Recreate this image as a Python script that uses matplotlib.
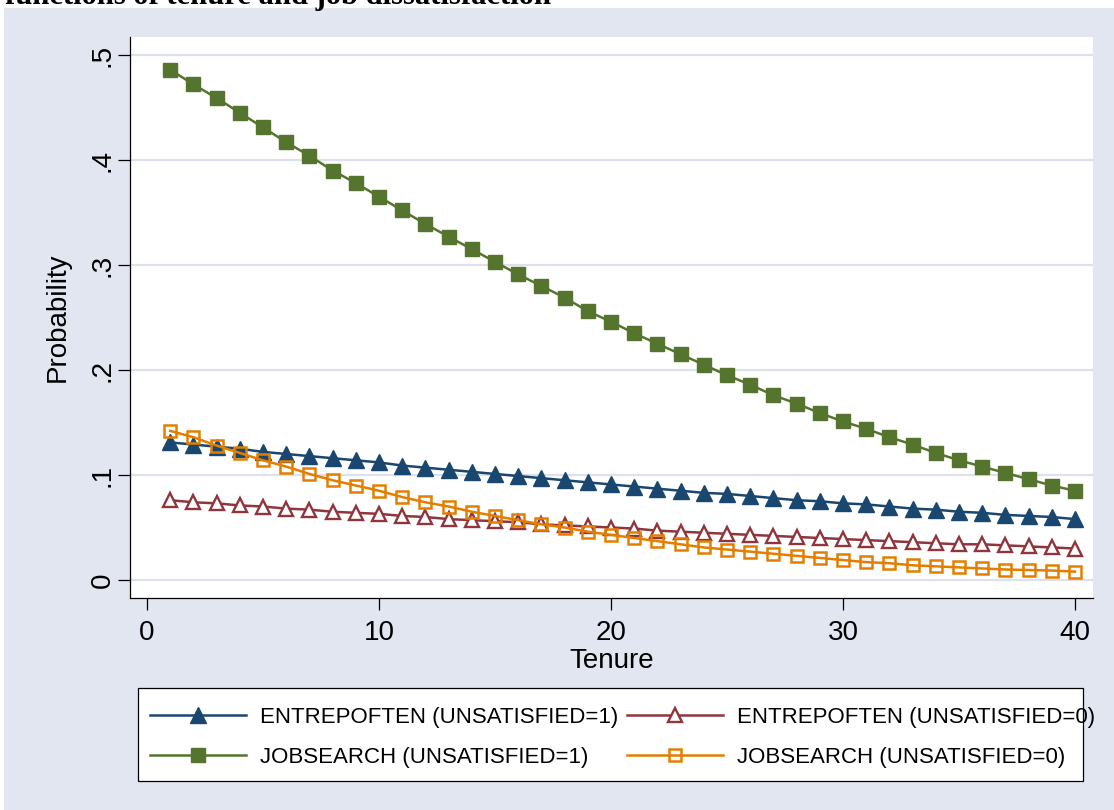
import matplotlib
matplotlib.use("Agg")
import matplotlib.pyplot as plt
from matplotlib.patches import Rectangle

plt.rcParams['font.family'] = ['Liberation Sans', 'DejaVu Sans']

# Predicted probabilities by tenure (years)
tenure = list(range(1, 41))

entrep_unsat1 = [0.131, 0.129, 0.127, 0.125, 0.122, 0.120, 0.118, 0.116, 0.114, 0.112,
                 0.109, 0.107, 0.105, 0.103, 0.101, 0.099, 0.097, 0.095, 0.093, 0.091,
                 0.089, 0.087, 0.085, 0.083, 0.082, 0.080, 0.078, 0.076, 0.075, 0.073,
                 0.072, 0.070, 0.068, 0.067, 0.065, 0.064, 0.062, 0.061, 0.060, 0.058]

entrep_unsat0 = [0.076, 0.074, 0.073, 0.071, 0.070, 0.068, 0.067, 0.065, 0.064, 0.063,
                 0.061, 0.060, 0.058, 0.057, 0.056, 0.055, 0.053, 0.052, 0.051, 0.050,
                 0.049, 0.047, 0.046, 0.045, 0.044, 0.043, 0.042, 0.041, 0.040, 0.039,
                 0.038, 0.037, 0.036, 0.035, 0.034, 0.034, 0.033, 0.032, 0.031, 0.030]

jobsearch_unsat1 = [0.486, 0.472, 0.459, 0.445, 0.431, 0.417, 0.404, 0.390, 0.378, 0.365,
                    0.352, 0.339, 0.327, 0.315, 0.303, 0.291, 0.280, 0.269, 0.256, 0.246,
                    0.235, 0.225, 0.215, 0.205, 0.195, 0.186, 0.176, 0.168, 0.159, 0.151,
                    0.144, 0.136, 0.129, 0.121, 0.114, 0.108, 0.102, 0.096, 0.090, 0.085]

jobsearch_unsat0 = [0.142, 0.136, 0.128, 0.121, 0.114, 0.108, 0.101, 0.095, 0.090, 0.085,
                    0.079, 0.074, 0.070, 0.065, 0.061, 0.057, 0.053, 0.050, 0.046, 0.043,
                    0.040, 0.037, 0.034, 0.031, 0.029, 0.027, 0.025, 0.023, 0.021, 0.019,
                    0.017, 0.016, 0.014, 0.013, 0.012, 0.011, 0.010, 0.0095, 0.009, 0.008]

labels = ["ENTREPOFTEN (UNSATISFIED=1)", "JOBSEARCH (UNSATISFIED=1)",
          "ENTREPOFTEN (UNSATISFIED=0)", "JOBSEARCH (UNSATISFIED=0)"]
yticks = [0, 0.1, 0.2, 0.3, 0.4, 0.5]
ytick_labels = ["0", ".1", ".2", ".3", ".4", ".5"]
xticks = [0, 10, 20, 30, 40]
title = "functions of tenure and job dissatisfaction"

NAVY = "#1A476F"
MAROON = "#90353B"
GREEN = "#55752F"
ORANGE = "#E37E00"
BG = "#E1E6F0"
GRID = "#DCE1EC"

W, H = 1114, 810
fig = plt.figure(figsize=(W / 100, H / 100), dpi=100)
fig.patch.set_facecolor("white")

# outer graph region
fig.add_artist(Rectangle((4 / W, 0), 1 - 4 / W, 1 - 8 / H, transform=fig.transFigure,
                         facecolor=BG, edgecolor="none", zorder=0))

fig.text(5 / W, 1 - 4 / H, title, family=["Liberation Serif", "DejaVu Serif"],
         fontweight="bold", fontsize=22, ha="left", va="baseline", zorder=5)

left, right, bottom, top = 130, 1093, 598, 37
ax = fig.add_axes([left / W, 1 - bottom / H, (right - left) / W, (bottom - top) / H])
ax.set_facecolor("white")

lw = 1.8
ax.plot(tenure, entrep_unsat1, color=NAVY, lw=lw, marker="^", ms=12,
        mfc=NAVY, mec=NAVY, mew=1, zorder=3, label=labels[0])
ax.plot(tenure, jobsearch_unsat1, color=GREEN, lw=lw, marker="s", ms=9.5,
        mfc=GREEN, mec=GREEN, mew=1, zorder=3, label=labels[1])
ax.plot(tenure, entrep_unsat0, color=MAROON, lw=lw, marker="^", ms=10.5,
        mfc="white", mec=MAROON, mew=1.7, zorder=3, label=labels[2])
ax.plot(tenure, jobsearch_unsat0, color=ORANGE, lw=lw, marker="s", ms=8.5,
        mfc="none", mec=ORANGE, mew=1.8, zorder=4, label=labels[3])

ax.set_xlim((left - 147) / 23.2, (right - 147) / 23.2)
ax.set_ylim((580 - bottom) / 1050, (580 - top) / 1050)

ax.set_yticks(yticks)
ax.set_yticklabels(ytick_labels, rotation=90, va="center")
ax.set_xticks(xticks)
ax.tick_params(axis="both", direction="out", length=8.5, width=0.9, color="black",
               labelsize=20, labelcolor="black")
ax.tick_params(axis="x", pad=7.5)
ax.tick_params(axis="y", pad=2)

ax.grid(axis="y", color=GRID, lw=1.6, zorder=1)
ax.grid(axis="x", visible=False)
ax.set_axisbelow(True)

for s in ("top", "right"):
    ax.spines[s].set_visible(False)
for s in ("left", "bottom"):
    ax.spines[s].set_color("black")
    ax.spines[s].set_linewidth(0.9)

ax.set_xlabel("Tenure", fontsize=20)
ax.set_ylabel("Probability", fontsize=20)
ax.xaxis.set_label_coords(0.5, -0.089)
ax.yaxis.set_label_coords(-0.062, 0.5)

# legend box
fig.add_artist(Rectangle((138 / W, 1 - 781 / H), (1083 - 138) / W, (781 - 688) / H,
                         transform=fig.transFigure, facecolor="white",
                         edgecolor="black", lw=0.9, zorder=2))
handles, hl = ax.get_legend_handles_labels()
leg = fig.legend(handles, hl, ncol=2, loc="center left",
                 bbox_to_anchor=(150 / W, 1 - 737.5 / H), frameon=False,
                 fontsize=16, handlelength=4.32, handletextpad=0.63,
                 columnspacing=0.4, labelspacing=0.875, borderpad=0,
                 borderaxespad=0, numpoints=1)
leg.set_zorder(6)

fig.savefig("out.png", dpi=100, facecolor=fig.get_facecolor())
